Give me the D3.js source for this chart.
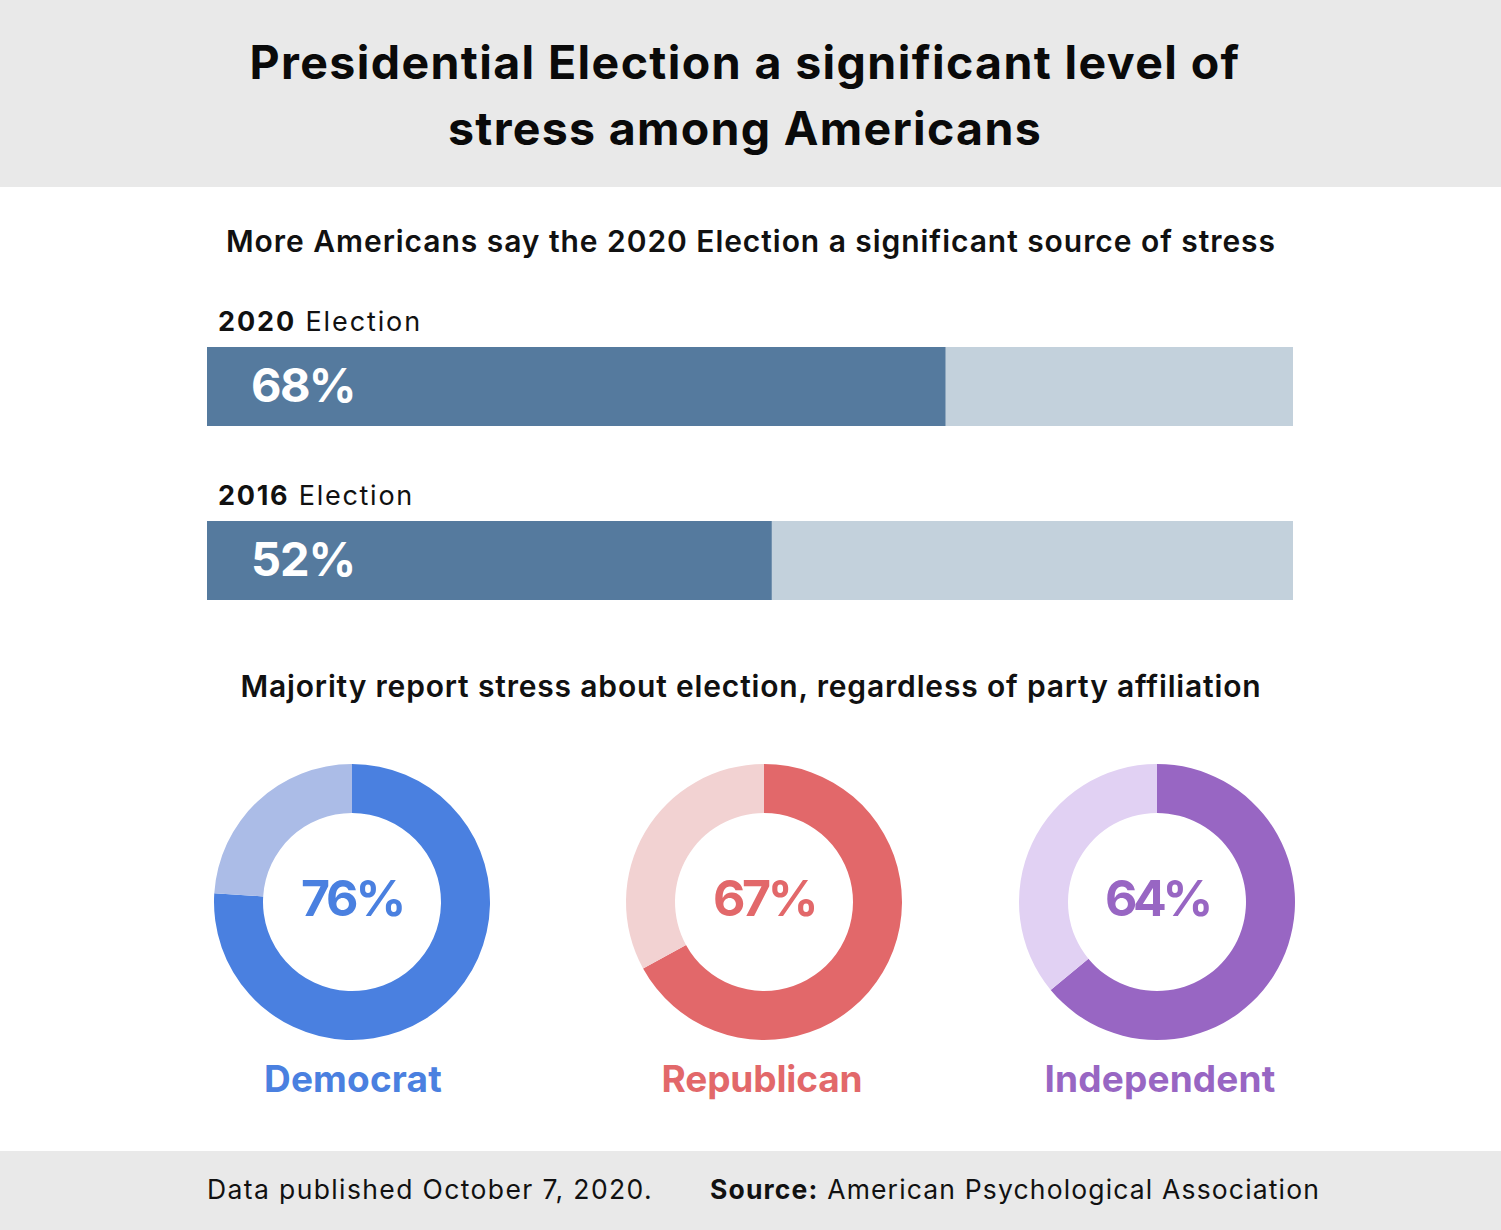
<!DOCTYPE html>
<html><head><meta charset="utf-8">
<script src="https://cdn.jsdelivr.net/npm/d3@7"></script>
<style>
html,body{margin:0;padding:0;background:#fff;}
svg{display:block;font-family:Inter,"Open Sans",sans-serif;}
</style></head>
<body>
<svg id="chart" width="1501" height="1230"></svg>
<script>
const titleLines = ["Presidential Election a significant level of", "stress among Americans"];
const subtitle1 = "More Americans say the 2020 Election a significant source of stress";
const subtitle2 = "Majority report stress about election, regardless of party affiliation";
const barYears = ["2020", "2016"];
const barSuffix = " Election";
const barValues = [68, 52];
const parties = ["Democrat", "Republican", "Independent"];
const partyValues = [76, 67, 64];
const partyColors = ["#4a80e0", "#e2686a", "#9866c3"];
const partyLight = ["#abbce7", "#f2d2d2", "#e1d1f3"];
const footNote = "Data published October 7, 2020.";
const sourceLabel = "Source:";
const sourceText = " American Psychological Association";

const W = 1501, H = 1230;
const svg = d3.select("#chart");

// spread a text's letters so it covers the width it has in the reference
function fit(sel, target){
  sel.each(function(){
    const n = this.getNumberOfChars();
    const w = this.getComputedTextLength();
    d3.select(this).attr("letter-spacing", ((target - w) / n).toFixed(3));
  });
}

svg.append("rect").attr("x",0).attr("y",0).attr("width",W).attr("height",187).attr("fill","#e9e9e9");
svg.append("rect").attr("x",0).attr("y",1151).attr("width",W).attr("height",H-1151).attr("fill","#e9e9e9");

const titleW = [991, 594];
svg.selectAll("text.title").data(titleLines).join("text")
  .attr("class","title")
  .attr("x",745).attr("y",(d,i)=>79+i*65.5)
  .attr("text-anchor","middle")
  .attr("font-size",46.5).attr("font-weight",700).attr("fill","#0a0a0a")
  .text(d=>d)
  .each(function(d,i){ fit(d3.select(this), titleW[i]); });

fit(svg.append("text").attr("x",751).attr("y",252).attr("text-anchor","middle")
  .attr("font-size",30).attr("font-weight",600).attr("fill","#111").text(subtitle1), 1050);

// bars
const x = d3.scaleLinear().domain([0,100]).range([207,1293]);
const yb = d3.scalePoint().domain(barYears).range([347,521]);
const bh = 79;
const barLblW = [204, 196];

const g = svg.append("g");
g.selectAll("rect.bg").data(barValues).join("rect")
  .attr("x",x(0)).attr("y",(d,i)=>yb(barYears[i])).attr("width",x(100)-x(0)).attr("height",bh).attr("fill","#c3d1dc");
g.selectAll("rect.fg").data(barValues).join("rect")
  .attr("x",x(0)).attr("y",(d,i)=>yb(barYears[i])).attr("width",d=>x(d)-x(0)).attr("height",bh).attr("fill","#557a9e");
g.selectAll("text.val").data(barValues).join("text")
  .attr("x",251).attr("y",(d,i)=>yb(barYears[i])+55)
  .attr("font-size",47).attr("font-weight",700).attr("fill","#fff").text(d=>d+"%")
  .each(function(){ fit(d3.select(this), 104); });
const lbl = g.selectAll("text.lbl").data(barYears).join("text")
  .attr("x",218).attr("y",d=>yb(d)-16)
  .attr("font-size",27).attr("fill","#111");
lbl.append("tspan").attr("font-weight",700).text(d=>d);
lbl.append("tspan").attr("font-weight",400).text(barSuffix);
lbl.each(function(d,i){ fit(d3.select(this), barLblW[i]); });

fit(svg.append("text").attr("x",751).attr("y",697).attr("text-anchor","middle")
  .attr("font-size",30).attr("font-weight",600).attr("fill","#111").text(subtitle2), 1021);

// donuts
const centersX = [352,764,1157];
const pctW = [102, 102, 104];
const nameX = [353, 762, 1160];
const nameW = [178, 201, 231];
const arc = d3.arc().innerRadius(89).outerRadius(138);
const pie = d3.pie().sort(null).value(d=>d);
const dg = svg.selectAll("g.donut").data(parties).join("g")
  .attr("class","donut")
  .attr("transform",(d,i)=>`translate(${centersX[i]},902)`);
dg.each(function(p,i){
  const gg = d3.select(this);
  const arcs = pie([partyValues[i], 100-partyValues[i]]);
  gg.selectAll("path").data(arcs).join("path")
    .attr("d",arc).attr("fill",(d,j)=>j===0?partyColors[i]:partyLight[i]);
  fit(gg.append("text").attr("text-anchor","middle").attr("y",14)
    .attr("font-size",50).attr("font-weight",700).attr("fill",partyColors[i])
    .text(partyValues[i]+"%"), pctW[i]);
  fit(gg.append("text").attr("text-anchor","middle").attr("x",nameX[i]-centersX[i]).attr("y",190)
    .attr("font-size",37).attr("font-weight",700).attr("fill",partyColors[i])
    .text(p), nameW[i]);
});

// footer
fit(svg.append("text").attr("x",207).attr("y",1199).attr("font-size",26.5).attr("fill","#111").text(footNote), 446);
const src = svg.append("text").attr("x",710).attr("y",1199).attr("font-size",26.5).attr("fill","#111");
src.append("tspan").attr("font-weight",700).text(sourceLabel);
src.append("tspan").attr("font-weight",400).text(sourceText);
fit(src, 610);
</script>
</body></html>
